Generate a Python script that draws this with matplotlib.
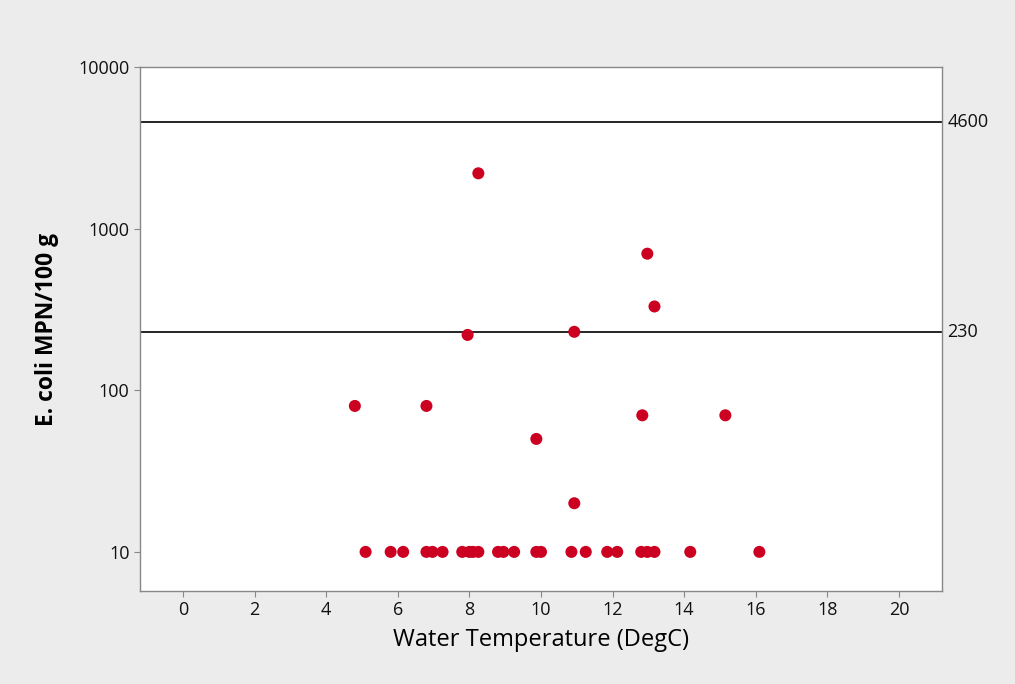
import matplotlib
matplotlib.use("Agg")
import matplotlib.pyplot as plt
from matplotlib.ticker import FixedLocator, FixedFormatter, NullLocator
import matplotlib.transforms as mtransforms

# Data
temp = [4.8, 6.8, 7.95, 8.25, 9.87, 10.93, 10.93, 12.97, 13.17, 12.83, 15.15,
        5.1, 5.8, 6.15, 6.8, 6.97, 7.25, 7.8, 8.0, 8.1, 8.25, 8.8, 8.95, 9.25,
        9.87, 10.0, 10.85, 11.25, 11.85, 12.13, 12.8, 12.97, 13.17, 14.17, 16.1]
ecoli = [80, 80, 220, 2200, 50, 230, 20, 700, 330, 70, 70,
         10, 10, 10, 10, 10, 10, 10, 10, 10, 10, 10, 10, 10,
         10, 10, 10, 10, 10, 10, 10, 10, 10, 10, 10]
ref_lines = [4600, 230]
ref_labels = ["4600", "230"]
xticks = [0, 2, 4, 6, 8, 10, 12, 14, 16, 18, 20]
yticks = [10, 100, 1000, 10000]
ytick_labels = ["10", "100", "1000", "10000"]

plt.rcParams['font.family'] = ['Open Sans', 'DejaVu Sans']

fig = plt.figure(figsize=(10.15, 6.84), dpi=100, facecolor='#ececec')
ax = fig.add_axes([0.138, 0.136, 0.79, 0.766])
ax.set_facecolor('white')

ax.set_yscale('log')
ax.set_xlim(-1.2, 21.2)
ax.set_ylim(5.73, 10000)

for v, lab in zip(ref_lines, ref_labels):
    ax.axhline(v, color='black', lw=1.2, zorder=1)
    trans = mtransforms.blended_transform_factory(ax.transAxes, ax.transData)
    ax.text(1.007, v, lab, transform=trans, ha='left', va='center', fontsize=13, color='#111111')

ax.scatter(temp, ecoli, s=75, color='#cc0020', edgecolors='none', zorder=3)

ax.xaxis.set_major_locator(FixedLocator(xticks))
ax.yaxis.set_major_locator(FixedLocator(yticks))
ax.yaxis.set_major_formatter(FixedFormatter(ytick_labels))
ax.yaxis.set_minor_locator(NullLocator())
ax.tick_params(axis='both', length=4, color='#888888', labelsize=13, labelcolor='#111111')

for s in ax.spines.values():
    s.set_color('#888888')
    s.set_linewidth(1)

ax.set_xlabel('Water Temperature (DegC)', fontsize=17, labelpad=6)
ax.set_ylabel('E. coli MPN/100 g', fontsize=16.5, fontweight='bold', labelpad=14)

fig.savefig('out.png', dpi=100, facecolor=fig.get_facecolor())
